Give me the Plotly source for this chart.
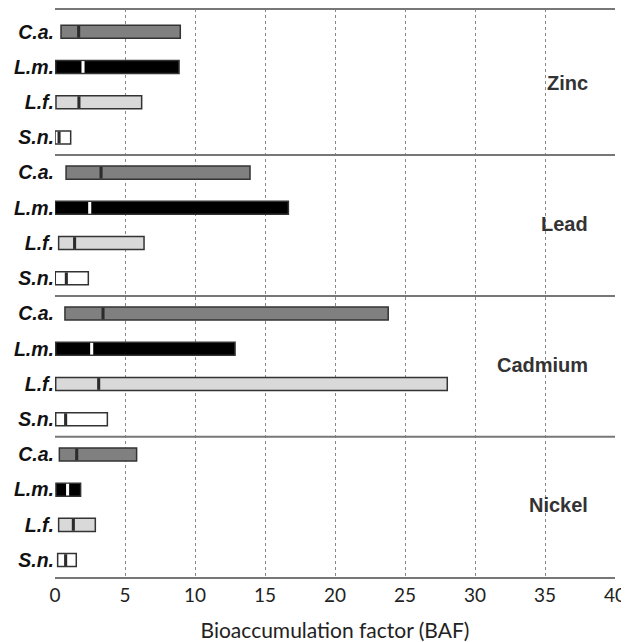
import plotly.graph_objects as go

metals = ["Zinc", "Lead", "Cadmium", "Nickel"]
species = ["C.a.", "L.m.", "L.f.", "S.n."]

# per-species values, order = Zinc, Lead, Cadmium, Nickel
ca_low = [0.43, 0.79, 0.71, 0.31]
ca_high = [8.95, 13.93, 23.8, 5.83]
ca_mid = [1.69, 3.29, 3.43, 1.55]

lm_low = [0.05, 0.0, 0.05, 0.07]
lm_high = [8.86, 16.67, 12.86, 1.83]
lm_mid = [2.0, 2.48, 2.62, 0.9]

lf_low = [0.07, 0.26, 0.05, 0.26]
lf_high = [6.19, 6.36, 28.02, 2.88]
lf_mid = [1.71, 1.4, 3.12, 1.31]

sn_low = [0.0, 0.02, 0.05, 0.19]
sn_high = [1.12, 2.38, 3.74, 1.52]
sn_mid = [0.29, 0.81, 0.76, 0.76]

x_ticks = [0, 5, 10, 15, 20, 25, 30, 35, 40]

series = [
    ("C.a.", ca_low, ca_high, ca_mid, "#808080", "#2b2b2b"),
    ("L.m.", lm_low, lm_high, lm_mid, "#000000", "#ffffff"),
    ("L.f.", lf_low, lf_high, lf_mid, "#d9d9d9", "#2b2b2b"),
    ("S.n.", sn_low, sn_high, sn_mid, "#ffffff", "#2b2b2b"),
]

BAR_W = 0.37
MID_W = 0.22

fig = go.Figure()
tickvals, ticktext = [], []
for si, (name, lo, hi, mid, col, midcol) in enumerate(series):
    ys = [4 * mi + si + 0.5 for mi in range(len(metals))]
    tickvals += ys
    ticktext += [f"<b><i>{name}</i></b>"] * len(ys)
    fig.add_trace(go.Bar(
        y=ys, x=[h - l for l, h in zip(lo, hi)], base=lo, orientation="h",
        width=BAR_W, marker=dict(color=col, line=dict(color="#333333", width=1.5)),
        showlegend=False, hoverinfo="skip"))
    fig.add_trace(go.Bar(
        y=ys, x=[MID_W] * len(ys), base=[m - MID_W / 2 for m in mid], orientation="h",
        width=BAR_W * 0.9, marker=dict(color=midcol, line=dict(width=0)),
        showlegend=False, hoverinfo="skip"))

for k in range(1, 4):
    fig.add_shape(type="line", xref="x", yref="y", x0=0, x1=40, y0=4 * k, y1=4 * k,
                  line=dict(color="#777777", width=2))
fig.add_shape(type="line", xref="x", yref="paper", x0=0, x1=40, y0=1, y1=1,
              line=dict(color="#777777", width=2))

for mi, m in enumerate(metals):
    fig.add_annotation(x=38.2, y=4 * mi + 2 - 0.05, xref="x", yref="y", text=f"<b>{m}</b>",
                       showarrow=False, xanchor="right", yanchor="middle",
                       font=dict(family="Liberation Sans, Arial", size=20, color="#333333"))

# page body has an 8px margin, so the figure is sized to fit inside the window
fig.update_layout(
    width=621, height=634, barmode="overlay",
    margin=dict(l=47, r=14, t=1, b=65, autoexpand=False),
    paper_bgcolor="white", plot_bgcolor="white",
    xaxis=dict(range=[0, 40], tickvals=x_ticks, showgrid=True, gridcolor="#888888",
               griddash="dot", gridwidth=1, zeroline=False, showline=True,
               linecolor="#777777", linewidth=2, ticks="", automargin=False,
               tickfont=dict(family="Lato, Open Sans", size=19, color="#222222"),
               title=dict(text="Bioaccumulation factor (BAF)", standoff=22,
                          font=dict(family="Lato, Open Sans", size=21, color="#222222"))),
    yaxis=dict(range=[15.98, -0.145], tickvals=tickvals, ticktext=ticktext,
               showgrid=False, zeroline=False, showline=False, ticks="", automargin=False,
               tickfont=dict(family="Liberation Sans, Arial", size=19.5, color="#111111")),
)

fig.write_html("out.html")
